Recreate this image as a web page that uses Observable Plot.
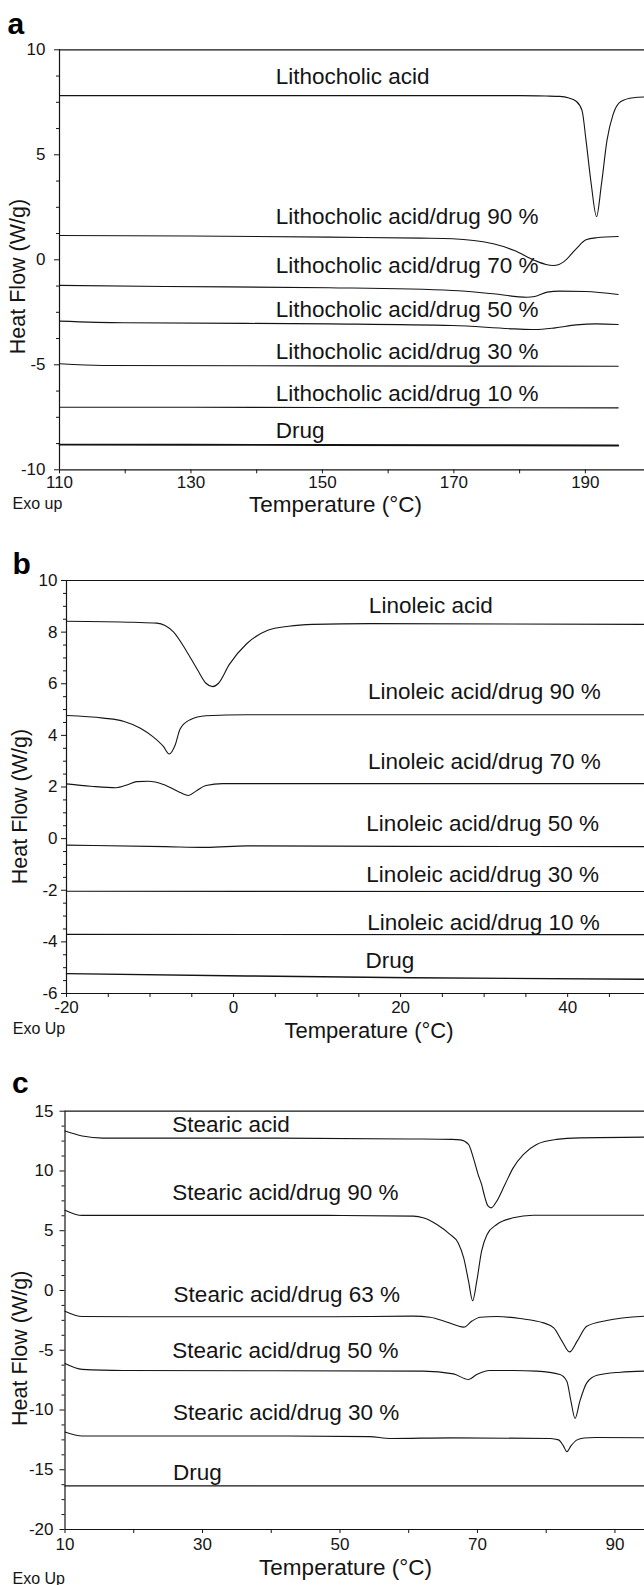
<!DOCTYPE html>
<html>
<head>
<meta charset="utf-8">
<script src="https://cdn.jsdelivr.net/npm/d3@7"></script>
<script src="https://cdn.jsdelivr.net/npm/@observablehq/plot@0.6"></script>
<style>
  html, body { margin: 0; padding: 0; background: #fff; }
  #chart { width: 644px; }
  #chart svg { display: block; }
</style>
</head>
<body>
<div id="chart"></div>
<script>
// ---------------- Panel a : Lithocholic acid ----------------
const aXDomain = [110, 199];
const aYDomain = [-10, 10];
const aXTicks = [110, 130, 150, 170, 190];
const aXMinor = [120, 140, 160, 180];
const aYTicks = [-10, -5, 0, 5, 10];
const aYMinor = [-8.75, -7.5, -6.25, -3.75, -2.5, -1.25, 1.25, 2.5, 3.75, 6.25, 7.5, 8.75];

const aLitho = [[110,7.82],[150,7.82],[180,7.82],[184,7.8],[186.1,7.78],[187.5,7.7],[188.6,7.55],[189.5,7.1],[190.1,5.7],[190.9,3.6],[191.7,2.06],[192.45,3.6],[193.3,5.7],[194.2,6.9],[195.4,7.54],[197.3,7.72],[199,7.75]];
const aLitho90 = [[110,1.16],[130,1.13],[151,1.08],[165,1.03],[169.8,1.0],[173,0.92],[176,0.76],[179.2,0.44],[182.3,-0.03],[184,-0.22],[185.1,-0.27],[186,-0.22],[186.7,-0.1],[188.6,0.52],[190.1,0.95],[191.7,1.05],[195,1.11]];
const aLitho70 = [[110,-1.22],[126,-1.27],[151,-1.33],[169.8,-1.46],[176,-1.62],[181.1,-1.78],[182.3,-1.75],[184.2,-1.54],[186.1,-1.49],[190,-1.51],[195,-1.65]];
const aLitho50 = [[110,-2.92],[119.7,-3.0],[151,-3.05],[169.8,-3.13],[179.2,-3.29],[182.3,-3.32],[185.4,-3.24],[188.6,-3.1],[191.7,-3.05],[195,-3.08]];
const aLitho30 = [[110,-4.95],[116.6,-5.03],[150,-5.05],[195,-5.07]];
const aLitho10 = [[110,-7.02],[150,-7.03],[195,-7.05]];
const aDrug = [[110,-8.8],[150,-8.82],[195,-8.84]];

const aLabels = ["Lithocholic acid", "Lithocholic acid/drug 90 %", "Lithocholic acid/drug 70 %", "Lithocholic acid/drug 50 %", "Lithocholic acid/drug 30 %", "Lithocholic acid/drug 10 %", "Drug"];
const aLabelX = [142.9, 142.9, 142.9, 142.9, 142.9, 142.9, 142.9];
const aLabelY = [8.35, 1.71, -0.62, -2.71, -4.71, -6.71, -8.47];

// ---------------- Panel b : Linoleic acid ----------------
const bXDomain = [-20, 49.2];
const bYDomain = [-6, 10];
const bXTicks = [-20, 0, 20, 40];
const bXMinor = [-15, -10, -5, 5, 10, 15, 25, 30, 35, 45];
const bYTicks = [-6, -4, -2, 0, 2, 4, 6, 8, 10];
const bYMinor = [-5.5,-5,-4.5,-3.5,-3,-2.5,-1.5,-1,-0.5,0.5,1,1.5,2.5,3,3.5,4.5,5,5.5,6.5,7,7.5,8.5,9,9.5];

const bLino = [[-20,8.42],[-12,8.38],[-9.2,8.35],[-8.2,8.26],[-7.2,8.01],[-5.7,7.3],[-4.3,6.53],[-3.3,6.02],[-2.5,5.89],[-1.8,6.02],[-0.5,6.75],[1.6,7.56],[4.1,8.07],[6.6,8.23],[9.5,8.3],[16.4,8.33],[49.2,8.3]];
const bLino90 = [[-20,4.77],[-15.6,4.67],[-13.1,4.54],[-11.15,4.28],[-9.7,3.96],[-8.4,3.57],[-7.7,3.28],[-7.0,3.62],[-6.4,4.25],[-5.25,4.6],[-3.3,4.76],[1.6,4.8],[49.2,4.8]];
const bLino70 = [[-20,2.12],[-17.1,2.03],[-14.1,1.97],[-12.6,2.1],[-11.6,2.21],[-10.2,2.22],[-8.4,2.1],[-6.7,1.84],[-5.4,1.67],[-4.5,1.84],[-3.3,2.06],[-1.3,2.13],[49.2,2.13]];
const bLino50 = [[-20,-0.25],[-8.2,-0.31],[-3.3,-0.34],[1.6,-0.28],[20,-0.3],[49.2,-0.31]];
const bLino30 = [[-20,-2.04],[49.2,-2.05]];
const bLino10 = [[-20,-3.71],[49.2,-3.72]];
const bDrug = [[-20,-5.23],[1.6,-5.32],[21.3,-5.39],[49.2,-5.45]];

const bLabels = ["Linoleic acid", "Linoleic acid/drug 90 %", "Linoleic acid/drug 70 %", "Linoleic acid/drug 50 %", "Linoleic acid/drug 30 %", "Linoleic acid/drug 10 %", "Drug"];
const bLabelX = [16.2, 16.1, 16.1, 15.9, 15.9, 16.0, 15.8];
const bLabelY = [8.73, 5.41, 2.70, 0.28, -1.68, -3.55, -5.03];

// ---------------- Panel c : Stearic acid ----------------
const cXDomain = [10, 94.3];
const cYDomain = [-20, 15];
const cXTicks = [10, 30, 50, 70, 90];
const cXMinor = [20, 40, 60, 80];
const cYTicks = [-20, -15, -10, -5, 0, 5, 10, 15];
const cYMinor = [-18.75,-17.5,-16.25,-13.75,-12.5,-11.25,-8.75,-7.5,-6.25,-3.75,-2.5,-1.25,1.25,2.5,3.75,6.25,7.5,8.75,11.25,12.5,13.75];

const cStear = [[10,13.34],[12.5,12.93],[15.5,12.75],[36.4,12.75],[60,12.68],[66.3,12.64],[67.5,12.6],[68.7,12.22],[69.4,11.1],[70.1,9.7],[70.6,8.87],[71.1,7.75],[71.5,7.1],[72.0,6.91],[72.8,7.47],[74.0,8.87],[75.2,10.26],[76.7,11.38],[78.6,12.22],[81.5,12.64],[84.9,12.77],[94.3,12.83]];
const cStear90 = [[10,6.72],[12.5,6.28],[18.5,6.28],[48.3,6.28],[60.7,6.22],[62.1,6.08],[64.1,5.52],[66.0,4.69],[67.2,3.98],[68.0,2.73],[68.7,0.78],[69.3,-0.86],[69.9,0.78],[70.6,3.29],[71.4,4.69],[72.8,5.52],[75.2,6.08],[78.1,6.3],[94.3,6.3]];
const cStear63 = [[10,-1.73],[12.5,-2.18],[20,-2.2],[48.3,-2.2],[60.7,-2.15],[63.1,-2.24],[65.5,-2.63],[68.0,-3.07],[69.2,-2.56],[70.4,-2.24],[72.8,-2.18],[76.2,-2.35],[79.6,-2.71],[81.1,-3.13],[82.3,-4.24],[83.4,-5.14],[84.5,-4.24],[85.9,-2.99],[88.8,-2.51],[94.3,-2.15]];
const cStear50 = [[10,-6.11],[12.5,-6.6],[18.5,-6.69],[62.1,-6.75],[66.5,-6.98],[68.7,-7.45],[69.9,-7.03],[71.8,-6.69],[75.2,-6.69],[78.6,-6.75],[82.0,-7.03],[83.0,-7.59],[83.6,-9.26],[84.2,-10.71],[84.9,-9.26],[85.9,-7.73],[87.4,-7.1],[90.8,-6.84],[94.3,-6.75]];
const cStear30 = [[10,-11.85],[12.5,-12.18],[42.4,-12.18],[54.3,-12.23],[57.3,-12.38],[66.3,-12.33],[80.6,-12.38],[81.8,-12.5],[82.5,-13.0],[83.0,-13.49],[83.6,-13.0],[84.5,-12.5],[85.5,-12.35],[87.2,-12.3],[94.3,-12.33]];
const cDrug = [[10,-16.35],[94.3,-16.35]];

const cLabels = ["Stearic acid", "Stearic acid/drug 90 %", "Stearic acid/drug 63 %", "Stearic acid/drug 50 %", "Stearic acid/drug 30 %", "Drug"];
const cLabelX = [25.6, 25.6, 25.8, 25.6, 25.7, 25.7];
const cLabelY = [13.28, 7.59, -0.95, -5.62, -10.84, -15.88];

// ---------------- shared drawing ----------------
const SANS = "'Liberation Sans', Arial, sans-serif";
const NARROW = "'Liberation Sans Narrow', 'Arial Narrow', 'Liberation Sans', sans-serif";
const INK = "#141414";

function panel(p) {
  const fx = d => d[0], fy = d => d[1];
  const labelRows = p.labels.map((t, i) => ({t, x: p.labelX[i], y: p.labelY[i]}));
  return Plot.plot({
    width: 644, height: p.h,
    marginLeft: p.ml, marginRight: 0, marginTop: p.mt, marginBottom: p.mb,
    x: {domain: p.xDomain},
    y: {domain: p.yDomain},
    style: {fontFamily: SANS, color: INK, background: "#fff", overflow: "visible"},
    marks: [
      Plot.ruleY([p.yDomain[1]], {stroke: INK, strokeWidth: 1.2}),
      Plot.ruleY([p.yDomain[0]], {stroke: INK, strokeWidth: 1.2}),
      Plot.ruleX([p.xDomain[0]], {stroke: INK, strokeWidth: 1.2}),
      Plot.axisY({ticks: p.yMinor, tickSize: 3, tickFormat: () => "", label: null}),
      Plot.axisY({ticks: p.yTicks, tickSize: 5, tickPadding: p.yPad, tickFormat: d => String(d), label: null, fontFamily: NARROW, fontSize: 17}),
      Plot.axisX({ticks: p.xMinor, tickSize: 4, tickFormat: () => "", label: null}),
      Plot.axisX({ticks: p.xTicks, tickSize: 4, tickPadding: p.xPad, tickFormat: d => String(d), label: null, fontFamily: NARROW, fontSize: 17}),
      ...p.series.map(s => Plot.line(s.data, {x: fx, y: fy, curve: "monotone-x", stroke: INK, strokeWidth: s.w || 1.1})),
      Plot.text(labelRows, {x: "x", y: "y", text: "t", textAnchor: "start", lineAnchor: "bottom", fontSize: 22.5, fill: INK}),
      Plot.text([p.letter], {frameAnchor: "top-left", text: d => d, textAnchor: "start", lineAnchor: "bottom", dx: p.letterDx, dy: p.letterDy, fontSize: 30, fontWeight: "bold", fill: "#000"}),
      Plot.text([p.exo], {frameAnchor: "bottom-left", text: d => d, textAnchor: "start", lineAnchor: "bottom", dx: p.exoDx, dy: p.exoDy, fontSize: 16, fill: INK}),
      Plot.text(["Heat Flow (W/g)"], {frameAnchor: "left", text: d => d, rotate: -90, textAnchor: "middle", lineAnchor: "middle", dx: p.ylabDx, dy: p.ylabDy, fontSize: 21.5, fill: INK}),
      Plot.text(["Temperature (°C)"], {frameAnchor: "bottom", text: d => d, textAnchor: "middle", lineAnchor: "bottom", dx: p.xlabDx, dy: p.xlabDy, fontSize: p.xlabSize || 22.5, fill: INK})
    ]
  });
}

const chart = document.getElementById("chart");

chart.append(panel({
  h: 520, ml: 59, mt: 49.3, mb: 50.7,
  xDomain: aXDomain, yDomain: aYDomain,
  xTicks: aXTicks, xMinor: aXMinor, yTicks: aYTicks, yMinor: aYMinor,
  yPad: 9, xPad: 2,
  series: [{data: aLitho}, {data: aLitho90}, {data: aLitho70}, {data: aLitho50}, {data: aLitho30}, {data: aLitho10}, {data: aDrug, w: 1.9}],
  labels: aLabels, labelX: aLabelX, labelY: aLabelY,
  letter: "a", letterDx: -52, letterDy: -16.3,
  exo: "Exo up", exoDx: -47, exoDy: 38.7,
  ylabDx: -41, ylabDy: 16.7,
  xlabDx: -16.5, xlabDy: 41.7
}));

chart.append(panel({
  h: 520, ml: 66, mt: 60, mb: 47,
  xDomain: bXDomain, yDomain: bYDomain,
  xTicks: bXTicks, xMinor: bXMinor, yTicks: bYTicks, yMinor: bYMinor,
  yPad: 4, xPad: 3,
  series: [{data: bLino}, {data: bLino90}, {data: bLino70}, {data: bLino50}, {data: bLino30}, {data: bLino10}, {data: bDrug, w: 1.4}],
  labels: bLabels, labelX: bLabelX, labelY: bLabelY,
  letter: "b", letterDx: -54, letterDy: -7,
  exo: "Exo Up", exoDx: -53.7, exoDy: 40,
  ylabDx: -46.5, ylabDy: 19.5,
  xlabDx: 13.5, xlabDy: 44, xlabSize: 22
}));

chart.append(panel({
  h: 545, ml: 64.5, mt: 70.7, mb: 56,
  xDomain: cXDomain, yDomain: cYDomain,
  xTicks: cXTicks, xMinor: cXMinor, yTicks: cYTicks, yMinor: cYMinor,
  yPad: 6.5, xPad: 4,
  series: [{data: cStear}, {data: cStear90}, {data: cStear63}, {data: cStear50}, {data: cStear30}, {data: cDrug, w: 1.4}],
  labels: cLabels, labelX: cLabelX, labelY: cLabelY,
  letter: "c", letterDx: -53, letterDy: -18.7,
  exo: "Exo Up", exoDx: -52.5, exoDy: 54,
  ylabDx: -45, ylabDy: 28,
  xlabDx: -9.25, xlabDy: 45
}));
</script>
</body>
</html>
